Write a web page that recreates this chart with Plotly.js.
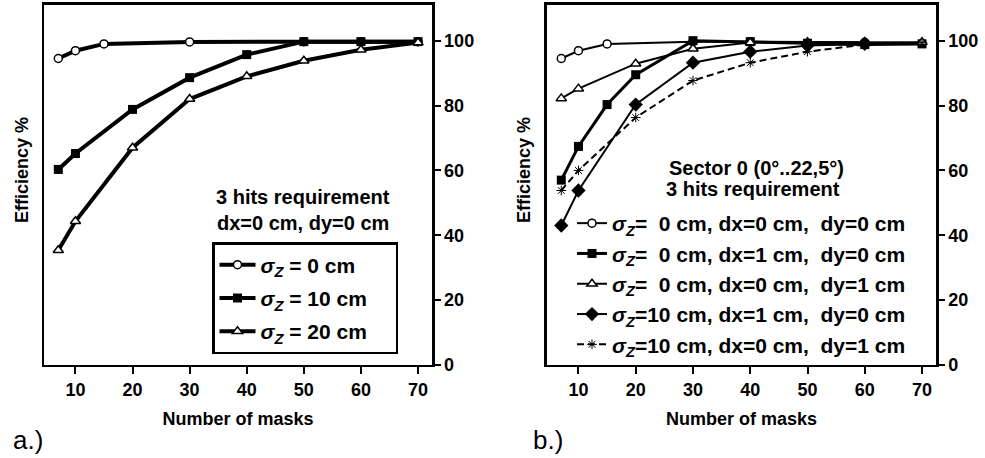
<!DOCTYPE html>
<html>
<head>
<meta charset="utf-8">
<script src="https://cdn.plot.ly/plotly-3.0.1.min.js"></script>
<style>html,body{margin:0;padding:0;background:#fff;}#chart{width:985px;height:458px;}</style>
</head>
<body>
<div id="chart"></div>
<script>
// ---- Panel a) data ----
const a_sz0_x = [7, 10, 15, 30, 50, 60, 70];
const a_sz0_y = [94.5, 96.9, 99.0, 99.6, 99.7, 99.7, 99.7];
const a_sz10_x = [7, 10, 20, 30, 40, 50, 60, 70];
const a_sz10_y = [60.3, 65.2, 78.8, 88.6, 95.7, 99.7, 99.7, 99.7];
const a_sz20_x = [7, 10, 20, 30, 40, 50, 60, 70];
const a_sz20_y = [35.4, 44.3, 67.0, 82.0, 89.0, 93.8, 97.2, 99.4];

// ---- Panel b) data ----
const b_s1_x = [7, 10, 15, 30, 40, 60];
const b_s1_y = [94.5, 96.9, 99.0, 99.7, 99.7, 99.5];
const b_s2_x = [7, 10, 15, 20, 30, 40, 50, 60, 70];
const b_s2_y = [57.0, 67.4, 80.3, 89.5, 100.0, 99.7, 99.2, 98.8, 99.0];
const b_s3_x = [7, 10, 20, 30, 40, 50, 60, 70];
const b_s3_y = [82.2, 85.2, 92.9, 97.5, 99.4, 99.5, 99.5, 99.5];
const b_s4_x = [7, 10, 20, 30, 40, 50, 60];
const b_s4_y = [43.0, 53.8, 80.3, 93.2, 96.6, 98.5, 99.0];
const b_s5_x = [7, 10, 20, 30, 40, 50, 60, 70];
const b_s5_y = [53.8, 60.0, 76.3, 87.7, 93.2, 96.6, 98.8, 99.4];

const xTicks = [10, 20, 30, 40, 50, 60, 70];
const yTicks = [0, 20, 40, 60, 80, 100];
const xTitle = "Number of masks";
const yTitle = "Efficiency %";

const FONT = "Liberation Sans Narrow, Arial Narrow, Liberation Sans, Arial, sans-serif";
const sig = "<i>σ</i><sub><i>Z</i></sub>";
const nb = "\u00A0";

const padA = nb + nb + nb + nb;
const namesA = [sig + " = 0 cm" + padA, sig + " = 10 cm" + padA, sig + " = 20 cm" + padA];
const namesB = [
  sig + "=" + nb + nb + "0 cm, dx=0 cm," + nb + nb + "dy=0 cm",
  sig + "=" + nb + nb + "0 cm, dx=1 cm," + nb + nb + "dy=0 cm",
  sig + "=" + nb + nb + "0 cm, dx=0 cm," + nb + nb + "dy=1 cm",
  sig + "=10 cm, dx=1 cm," + nb + nb + "dy=0 cm",
  sig + "=10 cm, dx=0 cm," + nb + nb + "dy=1 cm"
];

const traces = [
  {x: a_sz0_x, y: a_sz0_y, name: namesA[0], legend: "legend", legendgroup: "a1", xaxis: "x", yaxis: "y", mode: "lines+markers",
   line: {color: "#000", width: 4}, marker: {symbol: "circle", size: 8, color: "#fff", line: {color: "#000", width: 1.5}}},
  {x: a_sz10_x, y: a_sz10_y, name: namesA[1], legend: "legend", legendgroup: "a2", xaxis: "x", yaxis: "y", mode: "lines+markers",
   line: {color: "#000", width: 4}, marker: {symbol: "square", size: 9, color: "#000"}},
  {x: a_sz20_x, y: a_sz20_y, name: namesA[2], legend: "legend", legendgroup: "a3", xaxis: "x", yaxis: "y", mode: "lines+markers",
   line: {color: "#000", width: 4}, marker: {symbol: "triangle-up", size: 9, color: "#fff", line: {color: "#000", width: 1.5}}},

  {x: b_s1_x, y: b_s1_y, name: namesB[0], legend: "legend2", legendgroup: "b1", xaxis: "x2", yaxis: "y2", mode: "lines+markers",
   line: {color: "#000", width: 2}, marker: {symbol: "circle", size: 8, color: "#fff", line: {color: "#000", width: 1.5}}},
  {x: b_s2_x, y: b_s2_y, name: namesB[1], legend: "legend2", legendgroup: "b2", xaxis: "x2", yaxis: "y2", mode: "lines+markers",
   line: {color: "#000", width: 3}, marker: {symbol: "square", size: 9, color: "#000"}},
  {x: b_s3_x, y: b_s3_y, name: namesB[2], legend: "legend2", legendgroup: "b3", xaxis: "x2", yaxis: "y2", mode: "lines+markers",
   line: {color: "#000", width: 2}, marker: {symbol: "triangle-up", size: 9, color: "#fff", line: {color: "#000", width: 1.5}}},
  {x: b_s4_x, y: b_s4_y, name: namesB[3], legend: "legend2", legendgroup: "b4", xaxis: "x2", yaxis: "y2", mode: "lines+markers",
   line: {color: "#000", width: 2}, marker: {symbol: "diamond", size: 11, color: "#000"}},
  {x: b_s5_x, y: b_s5_y, name: namesB[4], legend: "legend2", legendgroup: "b5", xaxis: "x2", yaxis: "y2", mode: "lines+markers",
   line: {color: "#000", width: 2, dash: "7px,4px"}, marker: {symbol: "asterisk-open", size: 8, color: "#000", line: {color: "#000", width: 1}}}
];

function xax(domain) {
  return {domain: domain, range: [4.5, 72.45], tickvals: xTicks, ticks: "outside", ticklen: 7, tickwidth: 2, tickcolor: "#000",
    showline: true, linewidth: 2.5, linecolor: "#000", mirror: true, showgrid: false, zeroline: false,
    tickfont: {family: FONT, size: 18, weight: "bold", color: "#000"},
    title: {text: xTitle, standoff: 14, font: {family: FONT, size: 18, weight: "bold", color: "#000"}}};
}
function yax(anchor) {
  return {domain: [0.2031, 0.9891], range: [0, 111], side: "right", anchor: anchor, tickvals: yTicks, ticks: "outside", ticklen: 6, tickwidth: 2, tickcolor: "#000",
    showline: true, linewidth: 2.5, linecolor: "#000", mirror: true, showgrid: false, zeroline: false,
    tickfont: {family: FONT, size: 18, weight: "bold", color: "#000"}};
}

const xa = xax([0.0447, 0.4386]); xa.anchor = "y";
const xb = xax([0.5553, 0.9503]); xb.anchor = "y2";

const annFont = {family: FONT, size: 20, weight: "bold", color: "#000"};
const layout = {
  width: 985, height: 458,
  margin: {l: 0, r: 0, t: 0, b: 0},
  paper_bgcolor: "#fff", plot_bgcolor: "#fff",
  font: {family: FONT, color: "#000"},
  xaxis: xa, yaxis: yax("x"),
  xaxis2: xb, yaxis2: yax("x2"),
  showlegend: true,
  legend: {x: 212/985, y: 1 - 242/458, xanchor: "left", yanchor: "top", bgcolor: "#fff", bordercolor: "#000", borderwidth: 2.5,
    font: {family: FONT, size: 21, weight: "bold", color: "#000"}, traceorder: "grouped", tracegroupgap: 3, itemwidth: 36},
  legend2: {x: 572/985, y: 1 - 203/458, xanchor: "left", yanchor: "top", bgcolor: "rgba(0,0,0,0)", borderwidth: 0,
    font: {family: FONT, size: 21, weight: "bold", color: "#000"}, traceorder: "grouped", tracegroupgap: 0, itemwidth: 30},
  annotations: [
    {xref: "paper", yref: "paper", x: 303/985, y: 1 - 197/458, text: "3 hits requirement", showarrow: false, font: annFont, xanchor: "center", yanchor: "middle"},
    {xref: "paper", yref: "paper", x: 303/985, y: 1 - 223/458, text: "dx=0 cm, dy=0 cm", showarrow: false, font: annFont, xanchor: "center", yanchor: "middle"},
    {xref: "paper", yref: "paper", x: 756/985, y: 1 - 168/458, text: "Sector 0 (0°..22,5°)", showarrow: false, font: annFont, xanchor: "center", yanchor: "middle"},
    {xref: "paper", yref: "paper", x: 753/985, y: 1 - 189/458, text: "3 hits requirement", showarrow: false, font: annFont, xanchor: "center", yanchor: "middle"},
    {xref: "paper", yref: "paper", x: 22/985, y: 1 - 170/458, text: yTitle, textangle: -90, showarrow: false, font: {family: FONT, size: 18, weight: "bold", color: "#000"}, xanchor: "center", yanchor: "middle"},
    {xref: "paper", yref: "paper", x: 524/985, y: 1 - 170/458, text: yTitle, textangle: -90, showarrow: false, font: {family: FONT, size: 18, weight: "bold", color: "#000"}, xanchor: "center", yanchor: "middle"},
    {xref: "paper", yref: "paper", x: 28/985, y: 1 - 440/458, text: "a.)", showarrow: false, font: {family: FONT, size: 26, color: "#000"}, xanchor: "center", yanchor: "middle"},
    {xref: "paper", yref: "paper", x: 548/985, y: 1 - 440/458, text: "b.)", showarrow: false, font: {family: FONT, size: 26, color: "#000"}, xanchor: "center", yanchor: "middle"}
  ]
};

Plotly.newPlot("chart", traces, layout, {displayModeBar: false, staticPlot: true});
</script>
</body>
</html>
